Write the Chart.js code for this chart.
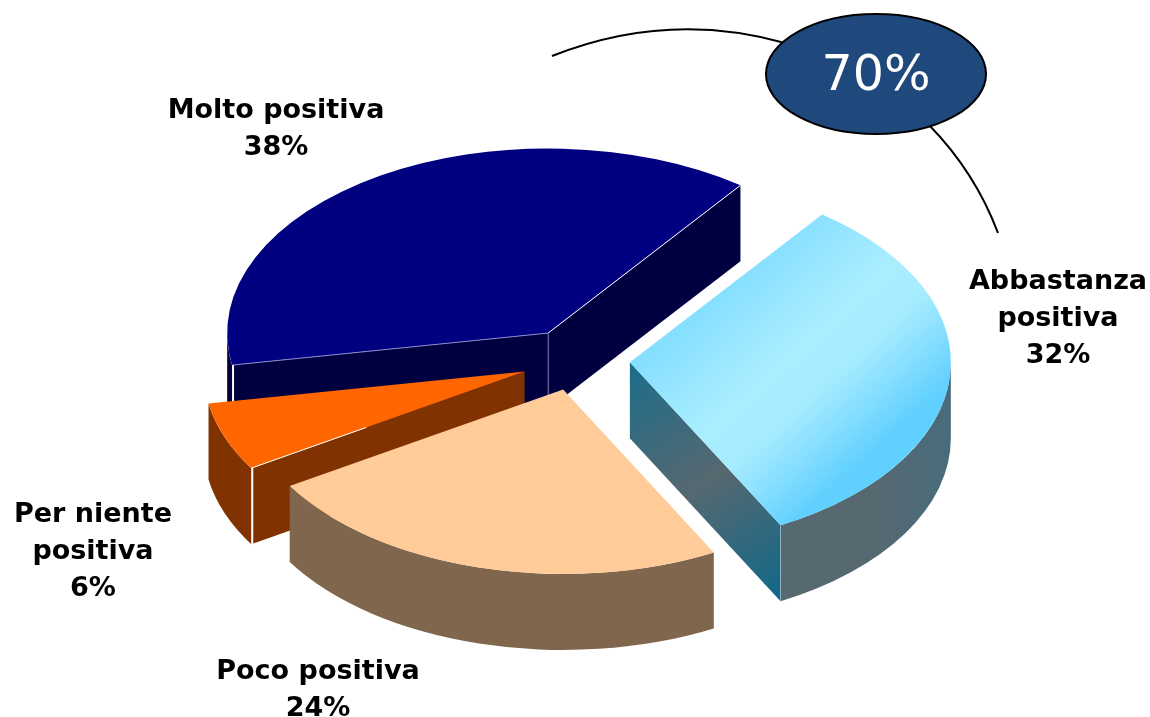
<!DOCTYPE html>
<html lang="it">
<head>
<meta charset="utf-8">
<title>Pie</title>
<style>html,body{margin:0;padding:0;background:#fff}canvas{display:block}</style>
<script src="https://cdn.jsdelivr.net/npm/chart.js@4"></script>
</head>
<body>
<canvas id="c" width="1150" height="717"></canvas>
<script>
const categories = ['Molto positiva', 'Abbastanza positiva', 'Poco positiva', 'Per niente positiva'];
const values = [38, 32, 24, 6];
const labelLines = [['Molto positiva'], ['Abbastanza', 'positiva'], ['Poco positiva'], ['Per niente', 'positiva']];
const calloutText = '70%';

const topColors = ['#000080', '#A6ECFF', '#FFCC99', '#FF6600'];
const sideColors = ['#000040', '#566870', '#80664D', '#803300'];
const explode = [55, 53, 53, 56];
const labelCenters = [[276, 111], [1058, 282], [318, 672], [93, 515]];
const drawOrder = [0, 3, 2, 1];
const TILT = 0.575, DEPTH = 76, LINE_H = 36.8;

function geometry(arc, i) {
  const mid = (arc.startAngle + arc.endAngle) / 2;
  const ox = arc.x + Math.cos(mid) * explode[i];
  const oyFlat = arc.y + Math.sin(mid) * explode[i];
  const sy = arc.y + (oyFlat - arc.y) * TILT;
  const r = arc.outerRadius;
  const at = a => [ox + r * Math.cos(a), sy + r * TILT * Math.sin(a)];
  return {ox, oyFlat, sy, r, at};
}

function quad(ctx, p, q, fill) {
  ctx.beginPath();
  ctx.moveTo(p[0], p[1]);
  ctx.lineTo(q[0], q[1]);
  ctx.lineTo(q[0], q[1] + DEPTH);
  ctx.lineTo(p[0], p[1] + DEPTH);
  ctx.closePath();
  ctx.fillStyle = fill;
  ctx.fill();
}

function seg(ctx, p, q, color, w) {
  ctx.beginPath();
  ctx.moveTo(p[0], p[1]);
  ctx.lineTo(q[0], q[1]);
  ctx.strokeStyle = color;
  ctx.lineWidth = w;
  ctx.stroke();
}

const pie3d = {
  id: 'pie3d',
  beforeDatasetsDraw(chart) {
    const ctx = chart.ctx;
    const arcs = chart.getDatasetMeta(0).data;
    for (const i of drawOrder) {
      const arc = arcs[i];
      const g = geometry(arc, i);
      const a0 = arc.startAngle, a1 = arc.endAngle;
      const apex = [g.ox, g.sy], p0 = g.at(a0), p1 = g.at(a1);

      let radialFill = sideColors[i], outerFill = sideColors[i];
      if (i === 1) {
        radialFill = ctx.createLinearGradient(apex[0], apex[1], p1[0], p1[1] + DEPTH);
        radialFill.addColorStop(0, '#1B6D8B');
        radialFill.addColorStop(0.5, '#566870');
        radialFill.addColorStop(1, '#0F688A');
        outerFill = ctx.createLinearGradient(p1[0], 0, g.ox + g.r, 0);
        outerFill.addColorStop(0, '#566870');
        outerFill.addColorStop(0.55, '#566870');
        outerFill.addColorStop(1, '#486C7C');
        const c = arc.outerRadius;
        const top = ctx.createLinearGradient(
          arc.x + 0.30 * c, arc.y - 0.405 * c,
          arc.x + 1.03 * c, arc.y + 0.06 * c);
        top.addColorStop(0, '#86DFFF');
        top.addColorStop(0.22, '#9AE7FF');
        top.addColorStop(0.42, '#AAEEFF');
        top.addColorStop(0.62, '#A6ECFF');
        top.addColorStop(0.82, '#84DDFF');
        top.addColorStop(1, '#60D0FF');
        arc.options.backgroundColor = top;
      }

      if (Math.cos(a0) < 0) quad(ctx, apex, p0, radialFill);
      if (Math.cos(a1) > 0) quad(ctx, apex, p1, radialFill);
      for (let k = 0; k < 3; k++) {
        const lo = Math.max(a0, 2 * Math.PI * k), hi = Math.min(a1, Math.PI + 2 * Math.PI * k);
        if (hi > lo) {
          ctx.beginPath();
          ctx.ellipse(g.ox, g.sy, g.r, g.r * TILT, 0, lo, hi, false);
          ctx.ellipse(g.ox, g.sy + DEPTH, g.r, g.r * TILT, 0, hi, lo, true);
          ctx.closePath();
          ctx.fillStyle = outerFill;
          ctx.fill();
        }
      }

      ctx.save();
      ctx.translate(0, arc.y);
      ctx.scale(1, TILT);
      ctx.translate(0, -arc.y);
      ctx.translate(g.ox - arc.x, g.oyFlat - arc.y);
      arc.draw(ctx);
      ctx.restore();

      if (i === 0) {
        seg(ctx, apex, p1, '#FFFFFF', 1);
        seg(ctx, apex, p0, '#8888CC', 1);
        seg(ctx, apex, [apex[0], apex[1] + DEPTH], '#7777AA', 1);
        seg(ctx, [p0[0] + 1, p0[1]], [p0[0] + 1, p0[1] + DEPTH], '#FFFFFF', 2);
      }
      if (i === 1) {
        seg(ctx, p1, [p1[0], p1[1] + DEPTH], '#8FB4C4', 1);
      }
      if (i === 3) {
        seg(ctx, [p0[0] + 1, p0[1]], [p0[0] + 1, p0[1] + DEPTH], '#FFFFFF', 2);
        seg(ctx, p0, [p0[0] + (apex[0] - p0[0]) * 0.42, p0[1] + (apex[1] - p0[1]) * 0.42], '#FFFFFF', 1);
      }
    }
    return false;
  },
  afterDraw(chart) {
    const ctx = chart.ctx;
    ctx.save();
    ctx.textAlign = 'center';
    ctx.textBaseline = 'middle';
    ctx.fillStyle = '#000000';
    ctx.font = 'bold 27px "DejaVu Sans"';
    categories.forEach((name, i) => {
      const lines = labelLines[i].concat(values[i] + '%');
      lines.forEach((t, n) => ctx.fillText(t, labelCenters[i][0], labelCenters[i][1] + n * LINE_H));
    });

    ctx.strokeStyle = '#000000';
    ctx.lineWidth = 2;
    ctx.beginPath();
    ctx.moveTo(552, 56);
    ctx.quadraticCurveTo(668, 10, 785, 43);
    ctx.stroke();
    ctx.beginPath();
    ctx.moveTo(929, 125);
    ctx.quadraticCurveTo(975, 172, 998, 233);
    ctx.stroke();

    ctx.beginPath();
    ctx.ellipse(876, 74, 110, 60, 0, 0, Math.PI * 2);
    ctx.fillStyle = '#1F497D';
    ctx.fill();
    ctx.lineWidth = 2;
    ctx.stroke();
    ctx.fillStyle = '#FFFFFF';
    ctx.font = '49px "DejaVu Sans"';
    ctx.fillText(calloutText, 876, 77);
    ctx.restore();
  }
};

new Chart(document.getElementById('c'), {
  type: 'pie',
  data: {
    labels: categories,
    datasets: [{
      data: values,
      backgroundColor: topColors,
      borderWidth: 0,
      radius: 321,
      clip: false
    }]
  },
  options: {
    responsive: false,
    animation: false,
    rotation: 260,
    layout: {padding: {left: 4, top: 3}},
    plugins: {legend: {display: false}, tooltip: {enabled: false}}
  },
  plugins: [pie3d]
});
</script>
</body>
</html>
